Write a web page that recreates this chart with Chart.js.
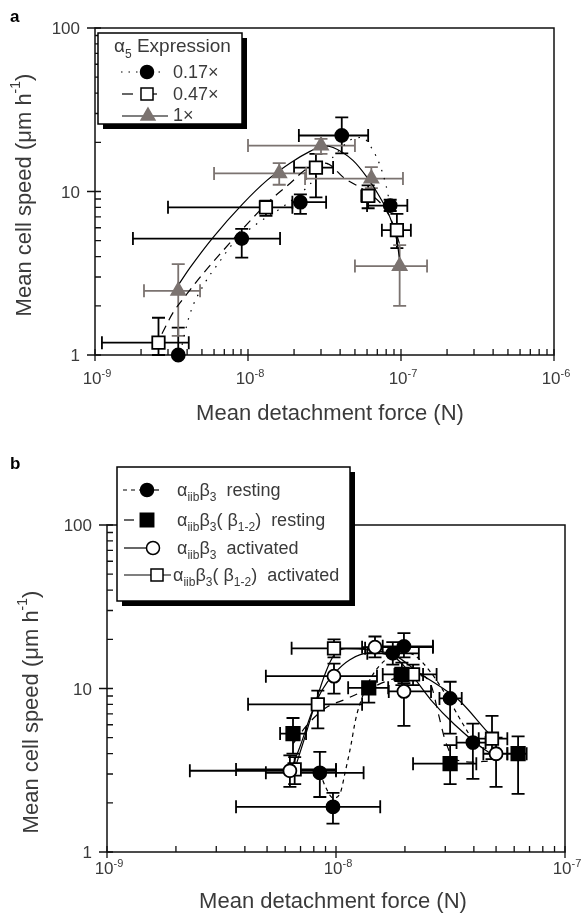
<!DOCTYPE html>
<html>
<head>
<meta charset="utf-8">
<title>Mean cell speed vs detachment force</title>
<script src="https://cdn.jsdelivr.net/npm/chart.js@4.4.1/dist/chart.umd.min.js"></script>
<style>
  body { margin: 0; background: #fff; }
  canvas { position: absolute; left: 0; }
  #chartA { top: 0; }
  #chartB { top: 450px; }
</style>
</head>
<body>
<canvas id="chartA" width="586" height="450"></canvas>
<canvas id="chartB" width="586" height="463"></canvas>
<script>
const FONT = '"Liberation Sans", Arial, Helvetica, sans-serif';
const INK = '#3a3a3a';
const GRAY = '#7b7370';

// ---- panel a: alpha5 expression ----
const aForceExp = [-9, -8, -7, -6];
const aSpeedTicks = [1, 10, 100];

// 0.17x
const a17Force = [3.5e-9, 9.1e-9, 2.2e-8, 4.1e-8, 8.5e-8];
const a17Speed = [1.0, 5.15, 8.6, 22, 8.2];
const a17ForceErr = [[3.5e-9, 3.5e-9], [1.77e-9, 1.62e-8], [1.95e-8, 3.24e-8], [2.15e-8, 6.1e-8], [6.0e-8, 1.1e-7]];
const a17SpeedErr = [[1.0, 1.47], [3.94, 5.9], [7.3, 9.6], [17.1, 28.4], [7.6, 8.9]];
// 0.47x
const a47Force = [2.6e-9, 1.31e-8, 2.78e-8, 6.1e-8, 9.4e-8];
const a47Speed = [1.19, 8.0, 14, 9.4, 5.8];
const a47ForceErr = [[1.11e-9, 4.1e-9], [3.0e-9, 1.95e-8], [2.0e-8, 3.6e-8], [5.5e-8, 6.7e-8], [7.5e-8, 1.16e-7]];
const a47SpeedErr = [[1.0, 1.69], [7.1, 8.8], [9.2, 17], [7.9, 10.9], [4.5, 7.3]];
// 1x
const a1Force = [3.5e-9, 1.6e-8, 3.0e-8, 6.4e-8, 9.8e-8];
const a1Speed = [2.47, 12.9, 19.1, 12, 3.5];
const a1ForceErr = [[2.09e-9, 4.86e-9], [6.0e-9, 2.4e-8], [1.0e-8, 5.0e-8], [2.36e-8, 1.03e-7], [5.0e-8, 1.48e-7]];
const a1SpeedErr = [[1.31, 3.6], [11, 14.9], [17, 21], [10.5, 14.1], [2.0, 4.7]];

// fitted curves
const fitA17Force = [3.6e-9, 4.18e-9, 5.24e-9, 6.37e-9, 7.98e-9, 1.15e-8, 1.67e-8, 2.43e-8, 3.44e-8, 4.65e-8, 5.56e-8, 6.46e-8, 7.3e-8, 7.98e-8, 8.5e-8];
const fitA17Speed = [1.03, 1.79, 2.77, 3.61, 4.8, 6.37, 8.0, 10.6, 15.5, 20.6, 21.4, 18.3, 14.4, 10.9, 8.2];
const fitA47Force = [2.74e-9, 3.23e-9, 4.0e-9, 5.08e-9, 6.87e-9, 9.27e-9, 1.39e-8, 1.88e-8, 2.43e-8, 3.19e-8, 4.3e-8, 5.82e-8, 7.86e-8, 9.1e-8, 9.85e-8];
const fitA47Speed = [1.35, 1.81, 2.37, 3.14, 4.35, 5.93, 8.8, 11.2, 13.8, 14.9, 12.0, 10.1, 7.85, 5.93, 4.67];
const fitA1Force = [3.48e-9, 4.18e-9, 5.9e-9, 9.27e-9, 1.33e-8, 1.88e-8, 2.54e-8, 3.1e-8, 3.6e-8, 4.85e-8, 6.0e-8, 7.3e-8, 8.5e-8, 9.4e-8, 9.85e-8];
const fitA1Speed = [2.65, 3.42, 5.23, 8.44, 11.7, 14.9, 17.6, 19.0, 18.6, 15.5, 12.2, 9.2, 6.9, 5.0, 3.66];

// ---- panel b: alphaIIb beta3 ----
const bForceExp = [-9, -8, -7];
const bSpeedTicks = [1, 10, 100];

// resting
const bRestForce = [8.5e-9, 9.7e-9, 1.77e-8, 1.98e-8, 3.15e-8, 3.96e-8];
const bRestSpeed = [3.05, 1.89, 16.4, 18.1, 8.7, 4.67];
const bRestForceErr = [[4.94e-9, 1.32e-8], [3.66e-9, 1.56e-8], [1.37e-8, 2.3e-8], [1.6e-8, 2.65e-8], [2.83e-8, 3.54e-8], [3.36e-8, 4.5e-8]];
const bRestSpeedErr = [[2.17, 4.1], [1.49, 2.3], [14, 19.2], [15.5, 21.8], [5.3, 11], [2.8, 6.1]];
// (beta1-2) resting
const bChRestForce = [6.49e-9, 1.39e-8, 1.94e-8, 3.15e-8, 6.24e-8];
const bChRestSpeed = [5.3, 10.1, 12.2, 3.47, 3.99];
const bChRestForceErr = [[5.7e-9, 7.4e-9], [1.13e-8, 1.69e-8], [1.6e-8, 2.4e-8], [2.17e-8, 4.1e-8], [5.6e-8, 6.8e-8]];
const bChRestSpeedErr = [[4.0, 6.6], [8.2, 10.9], [10.5, 14.4], [2.6, 4.5], [2.27, 5.1]];
// activated
const bActForce = [6.29e-9, 9.8e-9, 1.48e-8, 1.98e-8, 5.0e-8];
const bActSpeed = [3.14, 11.9, 17.9, 9.6, 3.99];
const bActForceErr = [[2.3e-9, 1.0e-8], [4.94e-9, 1.51e-8], [1.3e-8, 2.65e-8], [1.7e-8, 2.6e-8], [4.4e-8, 5.6e-8]];
const bActSpeedErr = [[2.5, 3.9], [9.3, 14.2], [15.5, 20.8], [5.9, 10.8], [2.5, 5.0]];
// (beta1-2) activated
const bChActForce = [6.6e-9, 8.33e-9, 9.8e-9, 2.17e-8, 4.8e-8];
const bChActSpeed = [3.2, 8.0, 17.6, 12.2, 4.93];
const bChActForceErr = [[3.66e-9, 1.0e-8], [4.13e-9, 1.3e-8], [6.4e-9, 1.34e-8], [1.8e-8, 2.75e-8], [4.2e-8, 5.6e-8]];
const bChActSpeedErr = [[2.6, 3.8], [5.7, 9.7], [15.5, 20], [10.5, 14], [3.7, 6.8]];

const fitRestForce = [8.5e-9, 9.04e-9, 9.7e-9, 1.04e-8, 1.1e-8, 1.16e-8, 1.22e-8, 1.3e-8, 1.44e-8, 1.64e-8, 1.9e-8, 2.21e-8, 2.6e-8, 3.1e-8, 3.6e-8, 4.0e-8];
const fitRestSpeed = [3.05, 2.47, 2.14, 2.27, 3.14, 4.45, 6.53, 8.8, 12.0, 14.9, 16.7, 15.9, 12.5, 8.6, 6.0, 4.7];
const fitChRestForce = [6.5e-9, 7.5e-9, 9e-9, 1.1e-8, 1.4e-8, 1.8e-8, 2.3e-8, 2.6e-8, 2.8e-8, 3.0e-8, 3.3e-8, 4e-8, 4.6e-8];
const fitChRestSpeed = [4.6, 6.0, 7.6, 8.6, 10.0, 11.5, 12.0, 10.5, 7.0, 4.8, 3.7, 3.55, 3.6];
const fitActForce = [6.3e-9, 7e-9, 7.8e-9, 8.7e-9, 9.8e-9, 1.15e-8, 1.4e-8, 1.8e-8, 2.1e-8, 2.6e-8, 3.3e-8, 4.2e-8, 5e-8];
const fitActSpeed = [3.1, 4.5, 7.0, 9.8, 12.3, 15.0, 16.5, 15.5, 12.5, 8.5, 6.0, 4.5, 3.8];
const fitChActForce = [6.6e-9, 7.3e-9, 8.2e-9, 9e-9, 9.8e-9, 1.1e-8, 1.4e-8, 1.8e-8, 2.3e-8, 3.0e-8, 3.5e-8, 4.6e-8, 5.0e-8];
const fitChActSpeed = [3.2, 5.0, 8.5, 12.5, 16.0, 17.5, 17.2, 16.0, 12.5, 9.8, 8.3, 5.4, 4.8];

function pts(xs, ys, xe, ye) {
  return xs.map((x, i) => ({ x: x, y: ys[i], xe: xe ? xe[i] : null, ye: ye ? ye[i] : null }));
}

function curve(xs, ys, dash, color) {
  return {
    data: pts(xs, ys), showLine: true, pointRadius: 0, pointHoverRadius: 0,
    borderColor: color || '#000', borderWidth: 1.2, borderDash: dash,
    cubicInterpolationMode: 'monotone', fill: false, order: 5
  };
}

function marker(xs, ys, xe, ye, style, r, fill, stroke, errColor) {
  return {
    data: pts(xs, ys, xe, ye), showLine: false, pointStyle: style, pointRadius: r,
    pointHoverRadius: r, backgroundColor: fill, borderColor: stroke, borderWidth: 1.8,
    errColor: errColor, clip: false, order: 1
  };
}

// text with sub/superscripts: parts = [[text, 0 normal | 1 sub | 2 sup], ...]
function rich(ctx, parts, x, y, size, align) {
  const fontFor = m => (m ? Math.round(size * 0.64) : size) + 'px ' + FONT;
  let w = 0;
  parts.forEach(([t, m]) => { ctx.font = fontFor(m); w += ctx.measureText(t).width; });
  let cx = align === 'center' ? x - w / 2 : align === 'right' ? x - w : x;
  parts.forEach(([t, m]) => {
    ctx.font = fontFor(m);
    const dy = m === 1 ? size * 0.3 : m === 2 ? -size * 0.42 : 0;
    ctx.fillText(t, cx, y + dy);
    cx += ctx.measureText(t).width;
  });
}

function seg(ctx, x1, x2, y, dash, color) {
  ctx.save();
  ctx.strokeStyle = color || '#000';
  ctx.lineWidth = 1.2;
  ctx.setLineDash(dash);
  ctx.beginPath(); ctx.moveTo(x1, y); ctx.lineTo(x2, y); ctx.stroke();
  ctx.restore();
}

function sample(ctx, style, r, fill, stroke, x, y) {
  ctx.save();
  ctx.fillStyle = fill; ctx.strokeStyle = stroke;
  Chart.helpers.drawPoint(ctx, { pointStyle: style, radius: r, borderWidth: 1.8, rotation: 0 }, x, y);
  ctx.restore();
}

function box(ctx, x, y, w, h, sh) {
  ctx.fillStyle = '#000';
  ctx.fillRect(x + sh, y + sh, w, h);
  ctx.fillStyle = '#fff';
  ctx.fillRect(x, y, w, h);
  ctx.strokeStyle = '#000'; ctx.lineWidth = 1.5;
  ctx.strokeRect(x, y, w, h);
}

const errorBars = {
  id: 'errorBars',
  beforeDatasetsDraw(chart) {
    const { ctx, scales: { x, y } } = chart;
    const cap = 6.5;
    ctx.save();
    ctx.lineWidth = 1.8;
    chart.data.datasets.forEach(ds => {
      if (!ds.errColor) return;
      ctx.strokeStyle = ds.errColor;
      ds.data.forEach(p => {
        const px = x.getPixelForValue(p.x), py = y.getPixelForValue(p.y);
        ctx.beginPath();
        if (p.xe) {
          const l = x.getPixelForValue(p.xe[0]), r = x.getPixelForValue(p.xe[1]);
          ctx.moveTo(l, py); ctx.lineTo(r, py);
          if (p.xe[0] !== p.x) { ctx.moveTo(l, py - cap); ctx.lineTo(l, py + cap); }
          if (p.xe[1] !== p.x) { ctx.moveTo(r, py - cap); ctx.lineTo(r, py + cap); }
        }
        if (p.ye) {
          const b = y.getPixelForValue(p.ye[0]), t = y.getPixelForValue(p.ye[1]);
          ctx.moveTo(px, b); ctx.lineTo(px, t);
          if (p.ye[0] !== p.y) { ctx.moveTo(px - cap, b); ctx.lineTo(px + cap, b); }
          if (p.ye[1] !== p.y) { ctx.moveTo(px - cap, t); ctx.lineTo(px + cap, t); }
        }
        ctx.stroke();
      });
    });
    ctx.restore();
  }
};

function frame(cfg) {
  return {
    id: 'frame',
    beforeDatasetsDraw(chart) {
      const { ctx, chartArea: a, scales: { x, y } } = chart;
      ctx.save();
      ctx.strokeStyle = '#111';
      ctx.lineWidth = 1.5;
      ctx.strokeRect(a.left, a.top, a.right - a.left, a.bottom - a.top);
      ctx.lineWidth = 1.3;
      ctx.beginPath();
      const xe = cfg.xExp, last = xe[xe.length - 1];
      for (let e = xe[0]; e <= last; e++) {
        for (let m = 1; m <= 9; m++) {
          if (e === last && m > 1) break;
          const px = x.getPixelForValue(m * Math.pow(10, e));
          ctx.moveTo(px, a.bottom - 6);
          ctx.lineTo(px, a.bottom + (m === 1 ? 6 : 0));
        }
      }
      const yt = cfg.yTicks;
      for (let i = 0; i < yt.length; i++) {
        for (let m = 1; m <= 9; m++) {
          if (i === yt.length - 1 && m > 1) break;
          const py = y.getPixelForValue(m * yt[i]);
          ctx.moveTo(a.left - (m === 1 ? 8 : 0), py);
          ctx.lineTo(a.left + 6, py);
        }
      }
      ctx.stroke();

      ctx.fillStyle = INK;
      ctx.textBaseline = 'alphabetic';
      xe.forEach(e => rich(ctx, [['10', 0], [String(e), 2]], x.getPixelForValue(Math.pow(10, e)) + 2, a.bottom + cfg.xLabelDy, 17, 'center'));
      yt.forEach(v => rich(ctx, [[String(v), 0]], a.left - cfg.yLabelGap, y.getPixelForValue(v) + 6, 17, 'right'));
      rich(ctx, [['Mean detachment force (N)', 0]], cfg.xTitle[0], cfg.xTitle[1], 22, 'center');
      ctx.save();
      ctx.translate(cfg.yTitle[0], cfg.yTitle[1]);
      ctx.rotate(-Math.PI / 2);
      ctx.textBaseline = 'middle';
      rich(ctx, [['Mean cell speed (\u03bcm h', 0], ['-1', 2], [')', 0]], 0, 0, 22, 'center');
      ctx.restore();
      ctx.restore();
    },
    afterDraw(chart) {
      const ctx = chart.ctx;
      ctx.save();
      ctx.fillStyle = '#000';
      ctx.font = 'bold 17px ' + FONT;
      ctx.fillText(cfg.letter, cfg.letterPos[0], cfg.letterPos[1]);
      cfg.legend(ctx);
      ctx.restore();
    }
  };
}

function options(xmin, xmax, padTop, padRight, yWidth, xHeight) {
  return {
    responsive: false,
    animation: false,
    events: [],
    layout: { padding: { left: 0, top: padTop, right: padRight, bottom: 0 } },
    plugins: { legend: { display: false }, tooltip: { enabled: false } },
    scales: {
      x: {
        type: 'logarithmic', min: xmin, max: xmax,
        ticks: { display: false }, grid: { display: false }, border: { display: false },
        afterFit: s => { s.height = xHeight; }
      },
      y: {
        type: 'logarithmic', min: 1, max: 100,
        ticks: { display: false }, grid: { display: false }, border: { display: false },
        afterFit: s => { s.width = yWidth; }
      }
    }
  };
}

function legendA(ctx) {
  box(ctx, 98, 33, 144, 91, 5);
  ctx.fillStyle = INK;
  rich(ctx, [['\u03b1', 0], ['5', 1], [' Expression', 0]], 114, 52, 19, 'left');
  seg(ctx, 121, 160, 72, [1.5, 6]);
  sample(ctx, 'circle', 6.5, '#000', '#000', 147, 72);
  seg(ctx, 122, 133, 94, []);
  seg(ctx, 153, 157, 94, []);
  sample(ctx, 'rect', 8.5, '#fff', '#000', 147, 94);
  seg(ctx, 122, 168, 116, []);
  sample(ctx, 'triangle', 8, GRAY, GRAY, 148, 116);
  ctx.fillStyle = INK;
  rich(ctx, [['0.17\u00d7', 0]], 173, 78, 18, 'left');
  rich(ctx, [['0.47\u00d7', 0]], 173, 100, 18, 'left');
  rich(ctx, [['1\u00d7', 0]], 173, 121, 18, 'left');
}

function legendB(ctx) {
  box(ctx, 117, 17, 233, 134, 5);
  seg(ctx, 123, 141, 40, [4, 4]);
  seg(ctx, 154, 159, 40, []);
  sample(ctx, 'circle', 6.5, '#000', '#000', 147, 40);
  seg(ctx, 124, 134, 70, []);
  sample(ctx, 'rect', 9.5, '#000', '#000', 147, 70);
  seg(ctx, 124, 146, 98, []);
  sample(ctx, 'circle', 6.5, '#fff', '#000', 153, 98);
  seg(ctx, 124, 171, 125, []);
  sample(ctx, 'rect', 8.5, '#fff', '#000', 157, 125);
  ctx.fillStyle = INK;
  const ab = [['\u03b1', 0], ['iib', 1], ['\u03b2', 0], ['3', 1]];
  rich(ctx, ab.concat([['  resting', 0]]), 177, 46, 18, 'left');
  rich(ctx, ab.concat([['( \u03b2', 0], ['1-2', 1], [')  resting', 0]]), 177, 76, 18, 'left');
  rich(ctx, ab.concat([['  activated', 0]]), 177, 104, 18, 'left');
  rich(ctx, ab.concat([['( \u03b2', 0], ['1-2', 1], [')  activated', 0]]), 173, 131, 18, 'left');
}

new Chart(document.getElementById('chartA'), {
  type: 'scatter',
  data: {
    datasets: [
      marker(a17Force, a17Speed, a17ForceErr, a17SpeedErr, 'circle', 6.5, '#000', '#000', '#000'),
      marker(a47Force, a47Speed, a47ForceErr, a47SpeedErr, 'rect', 8.8, '#fff', '#000', '#000'),
      marker(a1Force, a1Speed, a1ForceErr, a1SpeedErr, 'triangle', 8, GRAY, GRAY, GRAY),
      curve(fitA17Force, fitA17Speed, [1.5, 7]),
      curve(fitA47Force, fitA47Speed, [9, 6]),
      curve(fitA1Force, fitA1Speed, [])
    ]
  },
  options: options(1e-9, 1e-6, 28, 32, 95, 95),
  plugins: [frame({
    xExp: aForceExp, yTicks: aSpeedTicks, xLabelDy: 29, yLabelGap: 15,
    xTitle: [330, 420], yTitle: [25, 195], letter: 'a', letterPos: [10, 22], legend: legendA
  }), errorBars]
});

new Chart(document.getElementById('chartB'), {
  type: 'scatter',
  data: {
    datasets: [
      marker(bRestForce, bRestSpeed, bRestForceErr, bRestSpeedErr, 'circle', 6.5, '#000', '#000', '#000'),
      marker(bChRestForce, bChRestSpeed, bChRestForceErr, bChRestSpeedErr, 'rect', 9.5, '#000', '#000', '#000'),
      marker(bActForce, bActSpeed, bActForceErr, bActSpeedErr, 'circle', 6.5, '#fff', '#000', '#000'),
      marker(bChActForce, bChActSpeed, bChActForceErr, bChActSpeedErr, 'rect', 8.8, '#fff', '#000', '#000'),
      curve(fitRestForce, fitRestSpeed, [4, 4]),
      curve(fitChRestForce, fitChRestSpeed, [8, 7]),
      curve(fitActForce, fitActSpeed, []),
      curve(fitChActForce, fitChActSpeed, [])
    ]
  },
  options: options(1e-9, 1e-7, 75, 21, 107, 61),
  plugins: [frame({
    xExp: bForceExp, yTicks: bSpeedTicks, xLabelDy: 22, yLabelGap: 15,
    xTitle: [333, 458], yTitle: [32, 262], letter: 'b', letterPos: [10, 19], legend: legendB
  }), errorBars]
});
</script>
</body>
</html>
